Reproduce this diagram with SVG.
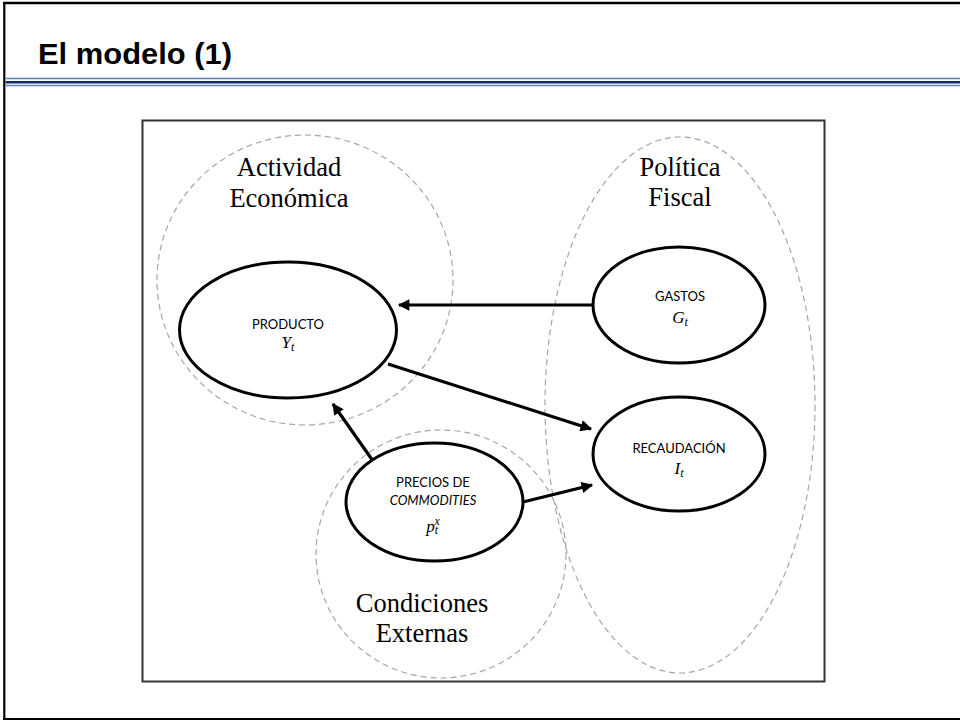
<svg xmlns="http://www.w3.org/2000/svg" width="960" height="721" viewBox="0 0 960 721">
<style>
.title{font-family:"Liberation Sans",Arial,sans-serif;font-weight:bold;font-size:29px;fill:#000}
.group{font-family:"Liberation Serif","Times New Roman",serif;font-size:26.5px;fill:#000;text-anchor:middle}
.lbl{font-family:Lato,"Open Sans",sans-serif;font-size:13px;fill:#000;text-anchor:middle}
.math{font-family:"Liberation Serif","DejaVu Serif",serif;font-style:italic;font-size:17px;fill:#000;text-anchor:middle}
.node{fill:#fff;stroke:#000;stroke-width:3}
.dash{fill:none;stroke:#a6a6a6;stroke-width:1.2;stroke-dasharray:6 4}
.conn{stroke:#000;stroke-width:3.2;fill:none}
</style>
<defs>
<marker id="ah" viewBox="0 0 10 10" refX="9" refY="5" markerWidth="4.4" markerHeight="3.6" orient="auto" markerUnits="strokeWidth">
<path d="M0,0 L10,5 L0,10 Z" fill="#000"/>
</marker>
</defs>
<rect width="960" height="721" fill="#fff"/>
<g id="frame">
<line x1="3" y1="3" x2="960" y2="3" stroke="#000" stroke-width="2.5"/>
<line x1="4.3" y1="2" x2="4.3" y2="720" stroke="#000" stroke-width="2.2"/>
<line x1="3" y1="719" x2="960" y2="719" stroke="#000" stroke-width="2"/>
<line x1="5.5" y1="78.5" x2="960" y2="78.5" stroke="#5b82b0" stroke-width="1.6"/>
<line x1="5.5" y1="82.2" x2="960" y2="82.2" stroke="#0c2f62" stroke-width="2.4"/>
<line x1="5.5" y1="85.5" x2="960" y2="85.5" stroke="#5b82b0" stroke-width="1.6"/>
<text class="title" x="38" y="64" textLength="194" lengthAdjust="spacingAndGlyphs">El modelo (1)</text>
<rect x="142.5" y="120.5" width="682" height="561" fill="none" stroke="#333" stroke-width="2"/>
</g>
<g id="group-actividad">
<ellipse class="dash" cx="305" cy="280" rx="148" ry="145"/>
<text class="group" x="289" y="176">Actividad</text>
<text class="group" x="289" y="207">Económica</text>
</g>
<g id="group-fiscal">
<ellipse class="dash" cx="680" cy="405" rx="135" ry="268"/>
<text class="group" x="680" y="176">Política</text>
<text class="group" x="680" y="206">Fiscal</text>
</g>
<g id="group-externas">
<ellipse class="dash" cx="441" cy="554" rx="125" ry="124"/>
<text class="group" x="422" y="612">Condiciones</text>
<text class="group" x="422" y="642">Externas</text>
</g>
<g id="connectors">
<line class="conn" x1="593" y1="305" x2="399" y2="305" marker-end="url(#ah)"/>
<line class="conn" x1="388" y1="364" x2="591" y2="429" marker-end="url(#ah)"/>
<line class="conn" x1="373" y1="461" x2="333" y2="404" marker-end="url(#ah)"/>
<line class="conn" x1="523" y1="502" x2="592" y2="485" marker-end="url(#ah)"/>
</g>
<g id="node-producto">
<ellipse class="node" cx="288" cy="330" rx="108.5" ry="68"/>
<text class="lbl" x="288" y="329">PRODUCTO</text>
<text class="math" x="288" y="348">Y<tspan font-size="12" dy="3">t</tspan></text>
</g>
<g id="node-gastos">
<ellipse class="node" cx="679" cy="305" rx="86" ry="58"/>
<text class="lbl" x="680" y="301">GASTOS</text>
<text class="math" x="680" y="323">G<tspan font-size="12" dy="3">t</tspan></text>
</g>
<g id="node-recaudacion">
<ellipse class="node" cx="679" cy="454" rx="86" ry="57"/>
<text class="lbl" x="679" y="453">RECAUDACIÓN</text>
<text class="math" x="679" y="474">I<tspan font-size="12" dy="3">t</tspan></text>
</g>
<g id="node-precios">
<ellipse class="node" cx="434.5" cy="502" rx="88.5" ry="59"/>
<text class="lbl" x="433" y="487">PRECIOS DE</text>
<text class="lbl" x="433" y="505" font-style="italic">COMMODITIES</text>
<text class="math" x="433" y="532">p<tspan font-size="12" dy="2">t</tspan><tspan font-size="12" dx="-3.5" dy="-9">x</tspan></text>
</g>
</svg>
